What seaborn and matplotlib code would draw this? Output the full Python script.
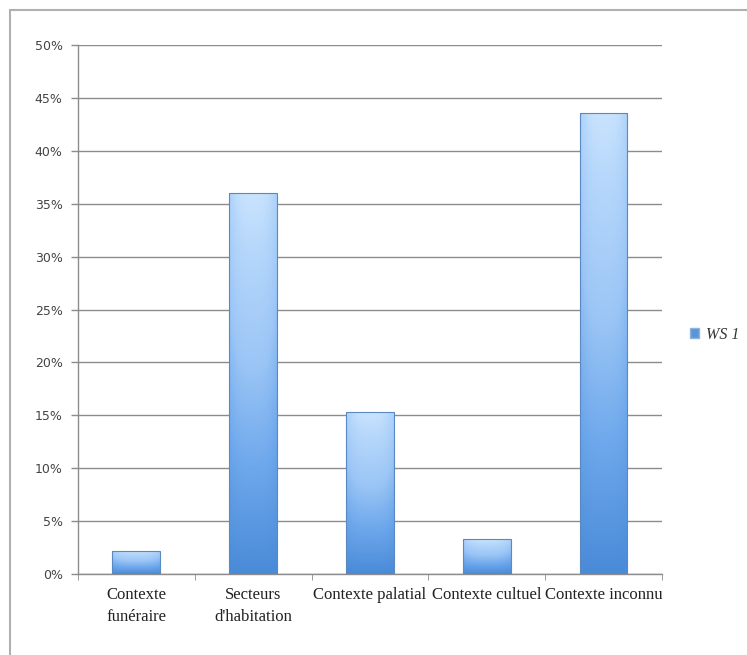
import numpy as np
import pandas as pd
import seaborn as sns
from matplotlib import pyplot as plt
from matplotlib.patches import Patch, Rectangle
from matplotlib.colors import LinearSegmentedColormap
from matplotlib.ticker import MultipleLocator, FuncFormatter

categories = ["Contexte\nfunéraire", "Secteurs\nd'habitation", "Contexte palatial",
              "Contexte cultuel", "Contexte inconnu"]
values = [2.2, 36.0, 15.3, 3.3, 43.6]
series_name = "WS 1"

df = pd.DataFrame({"category": categories, "value": values})

sns.set_style("white")

fig, ax = plt.subplots(figsize=(7.47, 6.55), dpi=100)
fig.subplots_adjust(left=0.1044, right=0.886, bottom=0.1237, top=0.931)

# outer chart frame
fig.patches.append(Rectangle((10 / 747, -0.05), 1.0, 1.0 - 10 / 655 + 0.05,
                             transform=fig.transFigure, fill=False,
                             edgecolor="#b0b0b0", linewidth=1.5))

sns.barplot(data=df, x="category", y="value", ax=ax, width=0.41,
            color="#6aa6e8", saturation=1.0, zorder=3)

# gradient fill on each bar
cmap = LinearSegmentedColormap.from_list(
    "bar", ["#4a8bd8", "#6ea8ec", "#9cc6f6", "#b4d6fb", "#d6ebff"])
ny, nx = 100, 40
vert = np.linspace(0, 1, ny)[:, None]
horiz = 1 - 0.25 * (np.abs(np.linspace(-1, 1, nx))[None, :] ** 3)
grad = vert * 0.9 * horiz
for bar in ax.patches:
    x0, y0 = bar.get_x(), bar.get_y()
    w, h = bar.get_width(), bar.get_height()
    img = ax.imshow(grad, extent=(x0, x0 + w, y0, y0 + h), origin="lower",
                    cmap=cmap, vmin=0, vmax=1, aspect="auto", zorder=3)
    img.set_clip_path(bar)
    bar.set_facecolor("none")
    bar.set_edgecolor("#5a88c0")
    bar.set_linewidth(0.8)
    bar.set_zorder(4)

ax.set_xlim(-0.5, len(categories) - 0.5)
ax.set_ylim(0, 50)
ax.yaxis.set_major_locator(MultipleLocator(5))
ax.yaxis.set_major_formatter(FuncFormatter(lambda v, p: f"{v:.0f}%"))
ax.grid(axis="y", color="#8c8c8c", linewidth=1.0, zorder=0)
ax.set_axisbelow(True)

for side in ["top", "right"]:
    ax.spines[side].set_visible(False)
for side in ["left", "bottom"]:
    ax.spines[side].set_color("#8c8c8c")
    ax.spines[side].set_linewidth(1.0)

ax.tick_params(axis="y", left=True, length=5, width=1.0, color="#8c8c8c",
               labelsize=9, labelcolor="#444444", pad=6)
ax.tick_params(axis="x", bottom=False, labelsize=12, labelcolor="#222222", pad=6)
for lbl in ax.get_xticklabels():
    lbl.set_fontfamily("Liberation Serif")
    lbl.set_linespacing(1.45)
ax.set_xticks(np.arange(-0.5, len(categories)), minor=True)
ax.tick_params(axis="x", which="minor", bottom=True, length=4, color="#8c8c8c")
ax.set_xlabel("")
ax.set_ylabel("")

handle = Patch(facecolor="#5a95dc", edgecolor="#8fb4e0")
leg = fig.legend([handle], [series_name], loc="center left",
                 bbox_to_anchor=(0.905, 0.489), frameon=False,
                 handlelength=0.55, handleheight=0.55, handletextpad=0.4,
                 prop={"family": "Liberation Serif", "style": "italic", "size": 11.5})
for t in leg.get_texts():
    t.set_color("#333333")

plt.savefig("out.png", dpi=100)
